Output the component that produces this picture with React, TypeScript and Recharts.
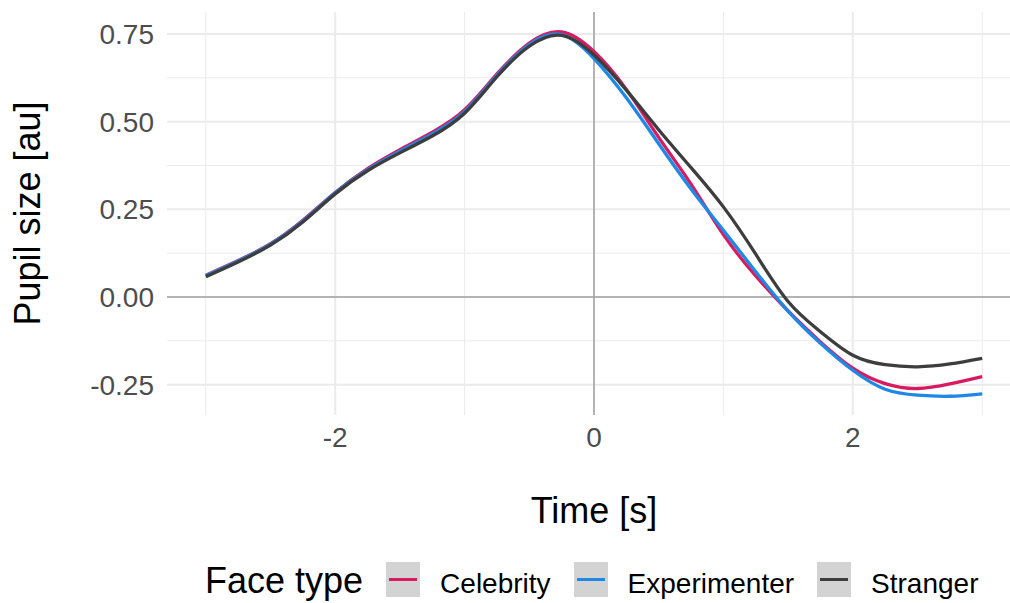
import React from 'react';
import { LineChart, Line, XAxis, YAxis, ReferenceLine } from 'recharts';

// time in seconds, sampled every 0.25 s
const time = [
  -3, -2.75, -2.5, -2.25, -2, -1.75, -1.5, -1.25, -1, -0.75, -0.5, -0.25, 0,
  0.25, 0.5, 0.75, 1, 1.25, 1.5, 1.75, 2, 2.25, 2.5, 2.75, 3,
];

const celebrity = [
  0.062, 0.104, 0.152, 0.219, 0.298, 0.366, 0.42, 0.47, 0.534, 0.636, 0.724, 0.756, 0.7,
  0.592, 0.455, 0.322, 0.178, 0.06, -0.04, -0.128, -0.203, -0.247, -0.261, -0.248, -0.227,
];

const experimenter = [
  0.061, 0.103, 0.151, 0.217, 0.297, 0.363, 0.416, 0.465, 0.529, 0.632, 0.72, 0.748, 0.68,
  0.568, 0.437, 0.308, 0.19, 0.072, -0.04, -0.132, -0.209, -0.263, -0.28, -0.283, -0.276,
];

const stranger = [
  0.058, 0.1, 0.148, 0.214, 0.294, 0.36, 0.411, 0.459, 0.524, 0.628, 0.715, 0.746, 0.69,
  0.59, 0.477, 0.369, 0.257, 0.122, -0.013, -0.099, -0.166, -0.193, -0.199, -0.191, -0.175,
];

const xTicks = [-2, 0, 2];
const xMinor = [-3, -1, 1, 3];
const yTicks = [-0.25, 0, 0.25, 0.5, 0.75];
const yMinor = [-0.125, 0.125, 0.375, 0.625];

const series = [
  { key: 'celebrity', name: 'Celebrity', color: '#D81B60' },
  { key: 'experimenter', name: 'Experimenter', color: '#1E88E5' },
  { key: 'stranger', name: 'Stranger', color: '#3d3d3d' },
];

const data = time.map((t, i) => ({
  time: t,
  celebrity: celebrity[i],
  experimenter: experimenter[i],
  stranger: stranger[i],
}));

const GRID = '#ebebeb';
const FONT = '"Liberation Sans", Arial, sans-serif';

export default function App() {
  return (
    <div
      style={{
        position: 'absolute',
        left: 0,
        top: 0,
        width: 1010,
        height: 603,
        overflow: 'hidden',
        background: '#fff',
        fontFamily: FONT,
      }}
    >
      <LineChart width={1021} height={603} data={data} margin={{ top: 12, right: 0, bottom: 0, left: 0 }}>
        {xMinor.map((v) => (
          <ReferenceLine key={`xm${v}`} x={v} stroke={GRID} strokeWidth={1} />
        ))}
        {yMinor.map((v) => (
          <ReferenceLine key={`ym${v}`} y={v} stroke={GRID} strokeWidth={1} />
        ))}
        {xTicks.map((v) => (
          <ReferenceLine key={`xM${v}`} x={v} stroke={GRID} strokeWidth={2} />
        ))}
        {yTicks.map((v) => (
          <ReferenceLine key={`yM${v}`} y={v} stroke={GRID} strokeWidth={2} />
        ))}
        <ReferenceLine x={0} stroke="#a0a0a0" strokeWidth={1.5} />
        <ReferenceLine y={0} stroke="#a0a0a0" strokeWidth={1.5} />
        <XAxis
          dataKey="time"
          type="number"
          domain={[-3.3, 3.3]}
          ticks={xTicks}
          allowDataOverflow
          interval={0}
          height={188}
          axisLine={false}
          tickLine={false}
          tickSize={0}
          tickMargin={12}
          tick={{ fill: '#4d4d4d', fontSize: 28 }}
          tickFormatter={(v) => String(v)}
          label={{ value: 'Time [s]', position: 'insideTop', offset: 82, fill: '#000', fontSize: 36 }}
        />
        <YAxis
          type="number"
          domain={[-0.3365, 0.8127]}
          ticks={yTicks}
          allowDataOverflow
          interval={0}
          width={167}
          axisLine={false}
          tickLine={false}
          tickSize={0}
          tickMargin={13}
          tick={{ fill: '#4d4d4d', fontSize: 28 }}
          tickFormatter={(v) => v.toFixed(2)}
          label={{
            value: 'Pupil size [au]',
            angle: -90,
            position: 'insideLeft',
            offset: 27,
            fill: '#000',
            fontSize: 36,
            style: { textAnchor: 'middle' },
          }}
        />
        {series.map((s) => (
          <Line
            key={s.key}
            type="natural"
            dataKey={s.key}
            name={s.name}
            stroke={s.color}
            strokeWidth={3.3}
            dot={false}
            activeDot={false}
            isAnimationActive={false}
          />
        ))}
      </LineChart>

      {/* legend, ggplot style at the bottom */}
      <div
        style={{
          position: 'absolute',
          left: 205,
          top: 562,
          display: 'flex',
          alignItems: 'flex-start',
          whiteSpace: 'nowrap',
        }}
      >
        <span style={{ fontSize: 36, lineHeight: '36px', marginTop: 1, marginRight: 23, color: '#000' }}>
          Face type
        </span>
        {series.map((s) => (
          <div key={s.key} style={{ display: 'flex', alignItems: 'flex-start', marginRight: 23 }}>
            <div
              style={{
                width: 34,
                height: 35,
                background: '#d3d3d3',
                position: 'relative',
              }}
            >
              <div
                style={{
                  position: 'absolute',
                  left: 3,
                  right: 3,
                  top: 16,
                  height: 3,
                  background: s.color,
                }}
              />
            </div>
            <span style={{ fontSize: 28, lineHeight: '28px', marginTop: 8, marginLeft: 20, color: '#000' }}>
              {s.name}
            </span>
          </div>
        ))}
      </div>
    </div>
  );
}
